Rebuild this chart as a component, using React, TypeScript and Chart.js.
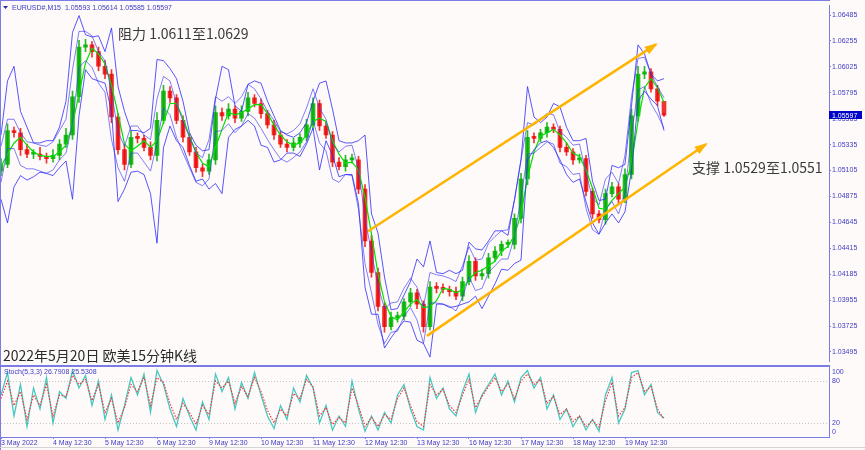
import React, { useEffect, useRef } from 'react';
import { Chart, registerables } from 'chart.js';

Chart.register(...registerables);

// ---------------- data ----------------
const dayLabels = [
  '3 May 2022', '4 May 12:30', '5 May 12:30', '6 May 12:30', '9 May 12:30', '10 May 12:30',
  '11 May 12:30', '12 May 12:30', '13 May 12:30', '16 May 12:30', '17 May 12:30', '18 May 12:30', '19 May 12:30',
];
const dayTicks = [0, 8, 16, 24, 32, 40, 48, 56, 64, 72, 80, 88, 96];
const priceTicks = [1.06485, 1.06255, 1.06025, 1.05795, 1.05565, 1.05335, 1.05105, 1.04875, 1.04645, 1.04415, 1.04185, 1.03955, 1.03725, 1.03495];
const firstOpen = 1.0510;

const closes = [
  1.0516, 1.0546, 1.0544, 1.0529, 1.0525, 1.0525, 1.0523, 1.0521, 1.0524, 1.0534,
  1.0542, 1.0576, 1.0620, 1.0622, 1.0616, 1.0603, 1.0596, 1.0558, 1.0529, 1.0516,
  1.0540, 1.0539, 1.0531, 1.0524, 1.0555, 1.0581, 1.0575, 1.0555, 1.0540, 1.0527,
  1.0513, 1.0510, 1.0520, 1.0562, 1.0559, 1.0565, 1.0557, 1.0563, 1.0575, 1.0570,
  1.0561, 1.0551, 1.0542, 1.0534, 1.0531, 1.0535, 1.0540, 1.0551, 1.0570, 1.0550,
  1.0542, 1.0518, 1.0514, 1.0520, 1.0520, 1.0494, 1.0448, 1.0420, 1.0390, 1.0372,
  1.0380, 1.0381, 1.0394, 1.0402, 1.0392, 1.0372, 1.0407, 1.0406, 1.0405, 1.0403,
  1.0399, 1.0412, 1.0430, 1.0417, 1.0419, 1.0433, 1.0439, 1.0445, 1.0445, 1.0468,
  1.0503, 1.0540, 1.0539, 1.0544, 1.0549, 1.0547, 1.0531, 1.0527, 1.0520, 1.0521,
  1.0492, 1.0472, 1.0467, 1.0490, 1.0496, 1.0485, 1.0507, 1.0559, 1.0596, 1.0598,
  1.0583, 1.0572, 1.05597,
];
const highs = [
  1.0521, 1.0552, 1.0549, 1.0548, 1.0534, 1.0529, 1.0531, 1.0526, 1.0529, 1.0538,
  1.0548, 1.0581, 1.0626, 1.0627, 1.0625, 1.0620, 1.0608, 1.0600, 1.0561, 1.0534,
  1.0546, 1.0544, 1.0542, 1.0536, 1.0562, 1.0586, 1.0585, 1.0578, 1.0559, 1.0543,
  1.0531, 1.0516, 1.0525, 1.0568, 1.0566, 1.0570, 1.0568, 1.0568, 1.0580, 1.0578,
  1.0574, 1.0564, 1.0555, 1.0545, 1.0538, 1.0539, 1.0543, 1.0556, 1.0575, 1.0573,
  1.0554, 1.0545, 1.0522, 1.0524, 1.0525, 1.0523, 1.0498, 1.0453, 1.0424, 1.0393,
  1.0385, 1.0385, 1.0397, 1.0406, 1.0405, 1.0395, 1.0412, 1.0411, 1.0410, 1.0408,
  1.0407, 1.0416, 1.0435, 1.0433, 1.0423, 1.0437, 1.0443, 1.0448, 1.0449, 1.0472,
  1.0508, 1.0546, 1.0544, 1.0547, 1.0553, 1.0552, 1.0550, 1.0535, 1.0530, 1.0525,
  1.0524, 1.0495, 1.0475, 1.0494, 1.0500, 1.0499, 1.0512, 1.0565, 1.0603, 1.0603,
  1.0601, 1.0586, 1.05614,
];
const lows = [
  1.0506, 1.0513, 1.0540, 1.0524, 1.0522, 1.0521, 1.0520, 1.0517, 1.0518, 1.0520,
  1.0531, 1.0538, 1.0571, 1.0616, 1.0611, 1.0599, 1.0592, 1.0553, 1.0525, 1.0511,
  1.0513, 1.0535, 1.0528, 1.0520, 1.0519, 1.0552, 1.0571, 1.0552, 1.0536, 1.0524,
  1.0509, 1.0505, 1.0507, 1.0516, 1.0555, 1.0556, 1.0553, 1.0554, 1.0559, 1.0567,
  1.0557, 1.0548, 1.0538, 1.0531, 1.0527, 1.0528, 1.0531, 1.0537, 1.0547, 1.0546,
  1.0539, 1.0514, 1.0511, 1.0510, 1.0517, 1.0490, 1.0443, 1.0416, 1.0386, 1.0367,
  1.0369, 1.0376, 1.0378, 1.0390, 1.0388, 1.0367, 1.0369, 1.0402, 1.0402, 1.0399,
  1.0396, 1.0395, 1.0409, 1.0413, 1.0414, 1.0415, 1.0430, 1.0435, 1.0442, 1.0441,
  1.0464, 1.0498, 1.0535, 1.0536, 1.0540, 1.0544, 1.0527, 1.0524, 1.0516, 1.0517,
  1.0488, 1.0468, 1.0464, 1.0463, 1.0487, 1.0481, 1.0482, 1.0503, 1.0554, 1.0592,
  1.0580, 1.0568, 1.05585,
];
const maLine = [
  1.0514, 1.0525, 1.0535, 1.0540, 1.0533, 1.0527, 1.0524, 1.0523, 1.0523, 1.0527,
  1.0533, 1.0551, 1.0579, 1.0606, 1.0619, 1.0614, 1.0605, 1.0586, 1.0561, 1.0534,
  1.0528, 1.0532, 1.0537, 1.0531, 1.0537, 1.0553, 1.0570, 1.0570, 1.0557, 1.0541,
  1.0527, 1.0517, 1.0514, 1.0531, 1.0547, 1.0562, 1.0560, 1.0562, 1.0565, 1.0569,
  1.0569, 1.0561, 1.0551, 1.0542, 1.0536, 1.0533, 1.0535, 1.0542, 1.0554, 1.0557,
  1.0554, 1.0537, 1.0525, 1.0517, 1.0518, 1.0511, 1.0487, 1.0454, 1.0419, 1.0394,
  1.0381, 1.0378, 1.0385, 1.0392, 1.0396, 1.0389, 1.0390, 1.0395, 1.0406, 1.0405,
  1.0402, 1.0405, 1.0414, 1.0420, 1.0422, 1.0426, 1.0430, 1.0439, 1.0443, 1.0453,
  1.0472, 1.0504, 1.0527, 1.0541, 1.0544, 1.0547, 1.0542, 1.0535, 1.0526, 1.0523,
  1.0511, 1.0495, 1.0477, 1.0476, 1.0484, 1.0490, 1.0496, 1.0517, 1.0554, 1.0584,
  1.0592, 1.0584, 1.0571,
];
const outerUp = [
  1.0542, 1.0590, 1.0603, 1.0563, 1.0549, 1.0535, 1.0535, 1.0537, 1.0537, 1.0549,
  1.0572, 1.0633, 1.0648, 1.0631, 1.0629, 1.0630, 1.0616, 1.0637, 1.0585, 1.0563,
  1.0546, 1.0546, 1.0544, 1.0548, 1.0609, 1.0608, 1.0601, 1.0592, 1.0572, 1.0544,
  1.0533, 1.0528, 1.0529, 1.0574, 1.0603, 1.0600, 1.0568, 1.0563, 1.0587, 1.0590,
  1.0588, 1.0572, 1.0559, 1.0546, 1.0542, 1.0540, 1.0544, 1.0553, 1.0572, 1.0588,
  1.0590, 1.0565, 1.0537, 1.0535, 1.0535, 1.0537, 1.0542, 1.0472, 1.0455, 1.0416,
  1.0387, 1.0388, 1.0400, 1.0412, 1.0432, 1.0425, 1.0448, 1.0420, 1.0419, 1.0422,
  1.0419, 1.0422, 1.0447, 1.0441, 1.0440, 1.0448, 1.0457, 1.0457, 1.0453, 1.0485,
  1.0520, 1.0585, 1.0558, 1.0553, 1.0558, 1.0570, 1.0567, 1.0549, 1.0537, 1.0537,
  1.0539, 1.0501, 1.0484, 1.0485, 1.0515, 1.0513, 1.0516, 1.0568, 1.0622, 1.0614,
  1.0596, 1.0590, 1.0592,
];
const outerLow = [
  1.0485, 1.0464, 1.0496, 1.0506, 1.0502, 1.0505, 1.0509, 1.0508, 1.0506, 1.0513,
  1.0519, 1.0485, 1.0559, 1.0600, 1.0592, 1.0590, 1.0588, 1.0563, 1.0483, 1.0494,
  1.0509, 1.0510, 1.0507, 1.0490, 1.0446, 1.0531, 1.0550, 1.0537, 1.0531, 1.0515,
  1.0501, 1.0503, 1.0494, 1.0499, 1.0490, 1.0540, 1.0547, 1.0550, 1.0555, 1.0550,
  1.0533, 1.0531, 1.0518, 1.0520, 1.0526, 1.0526, 1.0523, 1.0534, 1.0548, 1.0511,
  1.0537, 1.0524, 1.0505, 1.0507, 1.0507, 1.0481, 1.0407, 1.0383, 1.0383, 1.0353,
  1.0362, 1.0370, 1.0377, 1.0376, 1.0360, 1.0357, 1.0345, 1.0392, 1.0392, 1.0389,
  1.0390, 1.0392, 1.0394, 1.0399, 1.0388, 1.0399, 1.0410, 1.0423, 1.0422, 1.0428,
  1.0431, 1.0520, 1.0529, 1.0535, 1.0537, 1.0531, 1.0520, 1.0507, 1.0500, 1.0503,
  1.0483, 1.0464, 1.0454, 1.0464, 1.0472, 1.0464, 1.0474, 1.0511, 1.0572, 1.0581,
  1.0574, 1.0568, 1.0546,
];
const innerUp = [
  1.0532, 1.0556, 1.0556, 1.0544, 1.0536, 1.0535, 1.0533, 1.0532, 1.0536, 1.0546,
  1.0556, 1.0600, 1.0634, 1.0634, 1.0630, 1.0616, 1.0608, 1.0580, 1.0545, 1.0532,
  1.0550, 1.0550, 1.0542, 1.0538, 1.0574, 1.0594, 1.0590, 1.0570, 1.0554, 1.0540,
  1.0526, 1.0522, 1.0538, 1.0576, 1.0572, 1.0576, 1.0570, 1.0576, 1.0587, 1.0583,
  1.0574, 1.0563, 1.0555, 1.0545, 1.0543, 1.0546, 1.0552, 1.0566, 1.0583, 1.0566,
  1.0556, 1.0534, 1.0527, 1.0532, 1.0533, 1.0512, 1.0468, 1.0438, 1.0408, 1.0388,
  1.0393, 1.0394, 1.0406, 1.0415, 1.0407, 1.0390, 1.0420, 1.0418, 1.0417, 1.0415,
  1.0412, 1.0426, 1.0443, 1.0431, 1.0432, 1.0446, 1.0452, 1.0457, 1.0458, 1.0484,
  1.0520, 1.0553, 1.0551, 1.0556, 1.0561, 1.0560, 1.0545, 1.0540, 1.0533, 1.0534,
  1.0508, 1.0486, 1.0480, 1.0503, 1.0509, 1.0499, 1.0524, 1.0576, 1.0610, 1.0611,
  1.0596, 1.0585, 1.0575,
];
const innerLow = [
  1.0500, 1.0530, 1.0530, 1.0515, 1.0512, 1.0512, 1.0510, 1.0508, 1.0511, 1.0520,
  1.0526, 1.0552, 1.0602, 1.0608, 1.0602, 1.0588, 1.0580, 1.0538, 1.0513, 1.0501,
  1.0526, 1.0526, 1.0518, 1.0510, 1.0535, 1.0566, 1.0560, 1.0540, 1.0526, 1.0513,
  1.0500, 1.0497, 1.0503, 1.0545, 1.0546, 1.0552, 1.0544, 1.0550, 1.0561, 1.0557,
  1.0548, 1.0538, 1.0529, 1.0521, 1.0518, 1.0522, 1.0527, 1.0536, 1.0555, 1.0535,
  1.0528, 1.0503, 1.0500, 1.0507, 1.0506, 1.0476, 1.0428, 1.0402, 1.0374, 1.0357,
  1.0367, 1.0368, 1.0381, 1.0389, 1.0378, 1.0357, 1.0393, 1.0393, 1.0392, 1.0390,
  1.0386, 1.0398, 1.0416, 1.0404, 1.0406, 1.0420, 1.0426, 1.0432, 1.0432, 1.0452,
  1.0486, 1.0525, 1.0526, 1.0531, 1.0536, 1.0534, 1.0517, 1.0514, 1.0507, 1.0508,
  1.0477, 1.0458, 1.0454, 1.0476, 1.0483, 1.0472, 1.0491, 1.0542, 1.0582, 1.0585,
  1.0570, 1.0560, 1.0548,
];
// trend channel lines (x in bar units, y in price)
const channelUpperX = [56.46, 100.77];
const channelUpperY = [1.04567, 1.06224];
const channelLowerX = [65.54, 108.46];
const channelLowerY = [1.03638, 1.05339];

const stochK = [
  60, 92, 30, 75, 15, 70, 40, 85, 20, 65,
  55, 95, 70, 88, 45, 80, 25, 60, 10, 45,
  85, 60, 90, 35, 95, 75, 40, 15, 55, 30,
  10, 50, 25, 90, 65, 85, 40, 78, 55, 92,
  60, 30, 12, 45, 25, 70, 50, 88, 70, 20,
  45, 10, 30, 15, 80, 40, 8, 30, 10, 35,
  20, 60, 75, 40, 15, 10, 85, 55, 70, 40,
  30, 65, 90, 35, 60, 75, 90, 60, 80, 50,
  85, 95, 70, 85, 40, 60, 25, 40, 15, 30,
  10, 25, 8, 60, 85, 20, 40, 92, 95, 60,
  75, 35, 26.79,
];
const stochD = [
  55, 80, 45, 65, 25, 60, 45, 75, 30, 60,
  58, 88, 75, 82, 52, 75, 35, 55, 20, 42,
  75, 65, 85, 45, 85, 78, 48, 25, 48, 35,
  18, 45, 32, 80, 70, 80, 48, 72, 58, 85,
  65, 38, 20, 40, 30, 62, 55, 82, 72, 30,
  42, 18, 28, 20, 70, 45, 15, 28, 15, 32,
  25, 55, 70, 45, 22, 15, 75, 60, 68, 45,
  35, 60, 82, 42, 58, 72, 85, 65, 76, 55,
  80, 90, 75, 82, 48, 58, 32, 40, 22, 30,
  15, 24, 14, 52, 78, 30, 42, 85, 92, 65,
  72, 40, 25.53,
];
const stochLevels = [80, 20];
const stochLabels = [100, 80, 20, 0];

// ---------------- styles ----------------
const BG = '#fffafa';
const FRAME = '#7c7ce6';
const AXIS_TEXT = '#3c3cc4';
const BAND = 'rgba(45,45,250,0.8)';
const BAND_IN = 'rgba(60,60,245,0.65)';
const UP = 'rgba(0,175,0,0.85)';
const DOWN = 'rgba(235,0,0,0.8)';
const ORANGE = '#ffb400';
const SMALL_FONT = '"Liberation Sans", Arial, sans-serif';
const CJK_FONT = '"Noto Sans CJK SC", "Noto Sans", sans-serif';
const X_MAX = 828 / 6.5;

const pts = (arr: number[]) => arr.map((v, i) => ({ x: i, y: v }));

export default function App() {
  const mainRef = useRef<HTMLCanvasElement>(null);
  const stochRef = useRef<HTMLCanvasElement>(null);

  useEffect(() => {
    document.body.style.margin = '0';
    const opens = [firstOpen, ...closes.slice(0, -1)];
    const candleColors = closes.map((c, i) => (c >= opens[i] ? UP : DOWN));

    const mainPlugin = {
      id: 'mainDecor',
      beforeDraw(chart: any) {
        const ctx = chart.ctx;
        ctx.save();
        ctx.fillStyle = BG;
        ctx.fillRect(0, 0, chart.width, chart.height);
        ctx.restore();
      },
      afterDraw(chart: any) {
        const { ctx, chartArea: a } = chart;
        const yS = chart.scales.y;
        ctx.save();
        ctx.strokeStyle = FRAME;
        ctx.lineWidth = 1;
        ctx.beginPath();
        ctx.moveTo(0.5, 0);
        ctx.lineTo(0.5, chart.height);
        ctx.moveTo(0, 0.5);
        ctx.lineTo(a.right + 1, 0.5);
        ctx.stroke();
        ctx.lineWidth = 2;
        ctx.beginPath();
        ctx.moveTo(0, chart.height - 1);
        ctx.lineTo(a.right + 1, chart.height - 1);
        ctx.stroke();

        [0, 1].forEach((idx) => {
          const meta = chart.getDatasetMeta(idx);
          const p0 = meta.data[0];
          const p1 = meta.data[1];
          const ang = Math.atan2(p1.y - p0.y, p1.x - p0.x);
          const len = 11;
          const hw = 4.5;
          ctx.fillStyle = ORANGE;
          ctx.beginPath();
          ctx.moveTo(p1.x + Math.cos(ang) * 2, p1.y + Math.sin(ang) * 2);
          ctx.lineTo(p1.x - Math.cos(ang) * len + Math.sin(ang) * hw, p1.y - Math.sin(ang) * len - Math.cos(ang) * hw);
          ctx.lineTo(p1.x - Math.cos(ang) * len - Math.sin(ang) * hw, p1.y - Math.sin(ang) * len + Math.cos(ang) * hw);
          ctx.closePath();
          ctx.fill();
        });

        const last = closes[closes.length - 1];
        const py = yS.getPixelForValue(last);
        ctx.fillStyle = '#0000c8';
        ctx.fillRect(a.right, Math.round(py) - 4, 33, 8);
        ctx.fillStyle = '#ffffff';
        ctx.font = `7px ${SMALL_FONT}`;
        ctx.textBaseline = 'middle';
        ctx.textAlign = 'left';
        ctx.fillText(last.toFixed(5), a.right + 3, py + 0.5);

        ctx.fillStyle = '#2a2aa0';
        ctx.beginPath();
        ctx.moveTo(3, 6);
        ctx.lineTo(8, 6);
        ctx.lineTo(5.5, 9);
        ctx.closePath();
        ctx.fill();
        ctx.fillStyle = AXIS_TEXT;
        ctx.font = `7px ${SMALL_FONT}`;
        ctx.fillText('EURUSD#,M15  1.05593 1.05614 1.05585 1.05597', 12, 8);

        ctx.font = `14px ${CJK_FONT}`;
        ctx.fillStyle = '#3a3a3a';
        ctx.fillText('阻力 1.0611至1.0629', 118, 34);
        ctx.fillText('支撑 1.0529至1.0551', 692, 168);
        ctx.fillStyle = '#2a2a2a';
        ctx.fillText('2022年5月20日 欧美15分钟K线', 3, 356);
        ctx.restore();
      },
    };

    const main = new Chart(mainRef.current as HTMLCanvasElement, {
      type: 'line',
      data: {
        datasets: [
          {
            type: 'line',
            data: channelUpperX.map((x, i) => ({ x, y: channelUpperY[i] })),
            borderColor: ORANGE,
            borderWidth: 2.5,
            pointRadius: 0,
            order: 0,
          },
          {
            type: 'line',
            data: channelLowerX.map((x, i) => ({ x, y: channelLowerY[i] })),
            borderColor: ORANGE,
            borderWidth: 2.5,
            pointRadius: 0,
            order: 0,
          },
          { type: 'line', data: pts(outerUp), borderColor: BAND, borderWidth: 1, pointRadius: 0, order: 1 },
          { type: 'line', data: pts(outerLow), borderColor: BAND, borderWidth: 1, pointRadius: 0, order: 1 },
          { type: 'line', data: pts(innerUp), borderColor: BAND_IN, borderWidth: 1, pointRadius: 0, order: 1 },
          { type: 'line', data: pts(innerLow), borderColor: BAND_IN, borderWidth: 1, pointRadius: 0, order: 1 },
          { type: 'line', data: pts(maLine), borderColor: '#00e000', borderWidth: 1.2, pointRadius: 0, order: 2 },
          {
            type: 'bar',
            data: closes.map((c, i) => ({ x: i, y: [opens[i], c] })) as any,
            backgroundColor: candleColors,
            barThickness: 4,
            minBarLength: 2,
            grouped: false,
            order: 3,
          } as any,
          {
            type: 'bar',
            data: highs.map((h, i) => ({ x: i, y: [lows[i], h] })) as any,
            backgroundColor: candleColors,
            barThickness: 1,
            grouped: false,
            order: 4,
          } as any,
        ],
      },
      options: {
        animation: false,
        responsive: false,
        devicePixelRatio: 1,
        layout: { padding: { left: 1, top: 2, bottom: 1, right: 0 } },
        plugins: { legend: { display: false }, tooltip: { enabled: false } },
        scales: {
          x: { type: 'linear', min: 0, max: X_MAX, display: false, offset: false },
          y: {
            type: 'linear',
            position: 'right',
            min: 1.03408,
            max: 1.06572,
            afterFit: (s: any) => { s.width = 36; },
            afterBuildTicks: (s: any) => { s.ticks = priceTicks.map((v) => ({ value: v })); },
            ticks: {
              callback: (v: any) => Number(v).toFixed(5),
              color: AXIS_TEXT,
              font: { family: SMALL_FONT, size: 7 },
              padding: 1,
            },
            grid: { drawOnChartArea: false, tickLength: 2, color: FRAME },
            border: { display: true, color: FRAME, width: 1 },
          },
        },
      } as any,
      plugins: [mainPlugin],
    });

    const stochPlugin = {
      id: 'stochDecor',
      beforeDraw(chart: any) {
        const ctx = chart.ctx;
        ctx.save();
        ctx.fillStyle = BG;
        ctx.fillRect(0, 0, chart.width, chart.height);
        const { chartArea: a } = chart;
        const yS = chart.scales.y;
        ctx.strokeStyle = '#c4c4c4';
        ctx.setLineDash([1, 2]);
        ctx.lineWidth = 1;
        stochLevels.forEach((lv) => {
          const y = Math.round(yS.getPixelForValue(lv)) + 0.5;
          ctx.beginPath();
          ctx.moveTo(a.left, y);
          ctx.lineTo(a.right, y);
          ctx.stroke();
        });
        ctx.restore();
      },
      afterDraw(chart: any) {
        const { ctx, chartArea: a } = chart;
        const yS = chart.scales.y;
        ctx.save();
        ctx.strokeStyle = FRAME;
        ctx.lineWidth = 1;
        ctx.beginPath();
        ctx.moveTo(0.5, 0);
        ctx.lineTo(0.5, chart.height);
        ctx.moveTo(0, 0.5);
        ctx.lineTo(a.right + 1, 0.5);
        ctx.stroke();
        ctx.strokeStyle = '#d4d4d4';
        ctx.beginPath();
        ctx.moveTo(0, chart.height - 2.5);
        ctx.lineTo(chart.width, chart.height - 2.5);
        ctx.stroke();

        ctx.fillStyle = AXIS_TEXT;
        ctx.font = `7px ${SMALL_FONT}`;
        ctx.textAlign = 'left';
        ctx.textBaseline = 'middle';
        stochLabels.forEach((lv) => {
          let y = yS.getPixelForValue(lv);
          if (lv === 100) y += 5;
          if (lv === 0) y -= 5;
          ctx.fillText(String(lv), a.right + 3, y);
        });
        ctx.fillText('Stoch(5,3,3) 26.7908 25.5308', 4, 6);
        ctx.restore();
      },
    };

    const stoch = new Chart(stochRef.current as HTMLCanvasElement, {
      type: 'line',
      data: {
        datasets: [
          {
            data: pts(stochD),
            borderColor: '#ff2a2a',
            borderWidth: 1.1,
            borderDash: [1.5, 1.5],
            pointRadius: 0,
            order: 0,
          },
          {
            data: pts(stochK),
            borderColor: '#48c8c0',
            borderWidth: 1.3,
            pointRadius: 0,
            order: 1,
          },
        ],
      },
      options: {
        animation: false,
        responsive: false,
        devicePixelRatio: 1,
        layout: { padding: { left: 1, top: 1, bottom: 0, right: 0 } },
        plugins: { legend: { display: false }, tooltip: { enabled: false } },
        scales: {
          x: {
            type: 'linear',
            min: 0,
            max: X_MAX,
            offset: false,
            position: 'bottom',
            afterFit: (s: any) => { s.height = 13; },
            afterBuildTicks: (s: any) => { s.ticks = dayTicks.map((v) => ({ value: v })); },
            ticks: {
              callback: (v: any) => dayLabels[dayTicks.indexOf(Number(v))] ?? '',
              autoSkip: false,
              maxRotation: 0,
              minRotation: 0,
              align: 'start',
              padding: 0,
              color: AXIS_TEXT,
              font: { family: SMALL_FONT, size: 7 },
            },
            grid: { drawOnChartArea: false, tickLength: 2, color: FRAME },
            border: { display: true, color: FRAME, width: 1 },
          },
          y: {
            type: 'linear',
            position: 'right',
            min: 0,
            max: 100,
            afterFit: (s: any) => { s.width = 36; },
            ticks: { display: false },
            grid: { display: false },
            border: { display: true, color: FRAME, width: 1 },
          },
        },
      } as any,
      plugins: [stochPlugin],
    });

    return () => {
      main.destroy();
      stoch.destroy();
    };
  }, []);

  return (
    <div style={{ position: 'relative', width: 865, height: 450, background: BG, overflow: 'hidden' }}>
      <canvas
        ref={mainRef}
        width={865}
        height={367}
        style={{ position: 'absolute', left: 0, top: 0, width: 865, height: 367 }}
      />
      <canvas
        ref={stochRef}
        width={865}
        height={84}
        style={{ position: 'absolute', left: 0, top: 366, width: 865, height: 84 }}
      />
    </div>
  );
}
